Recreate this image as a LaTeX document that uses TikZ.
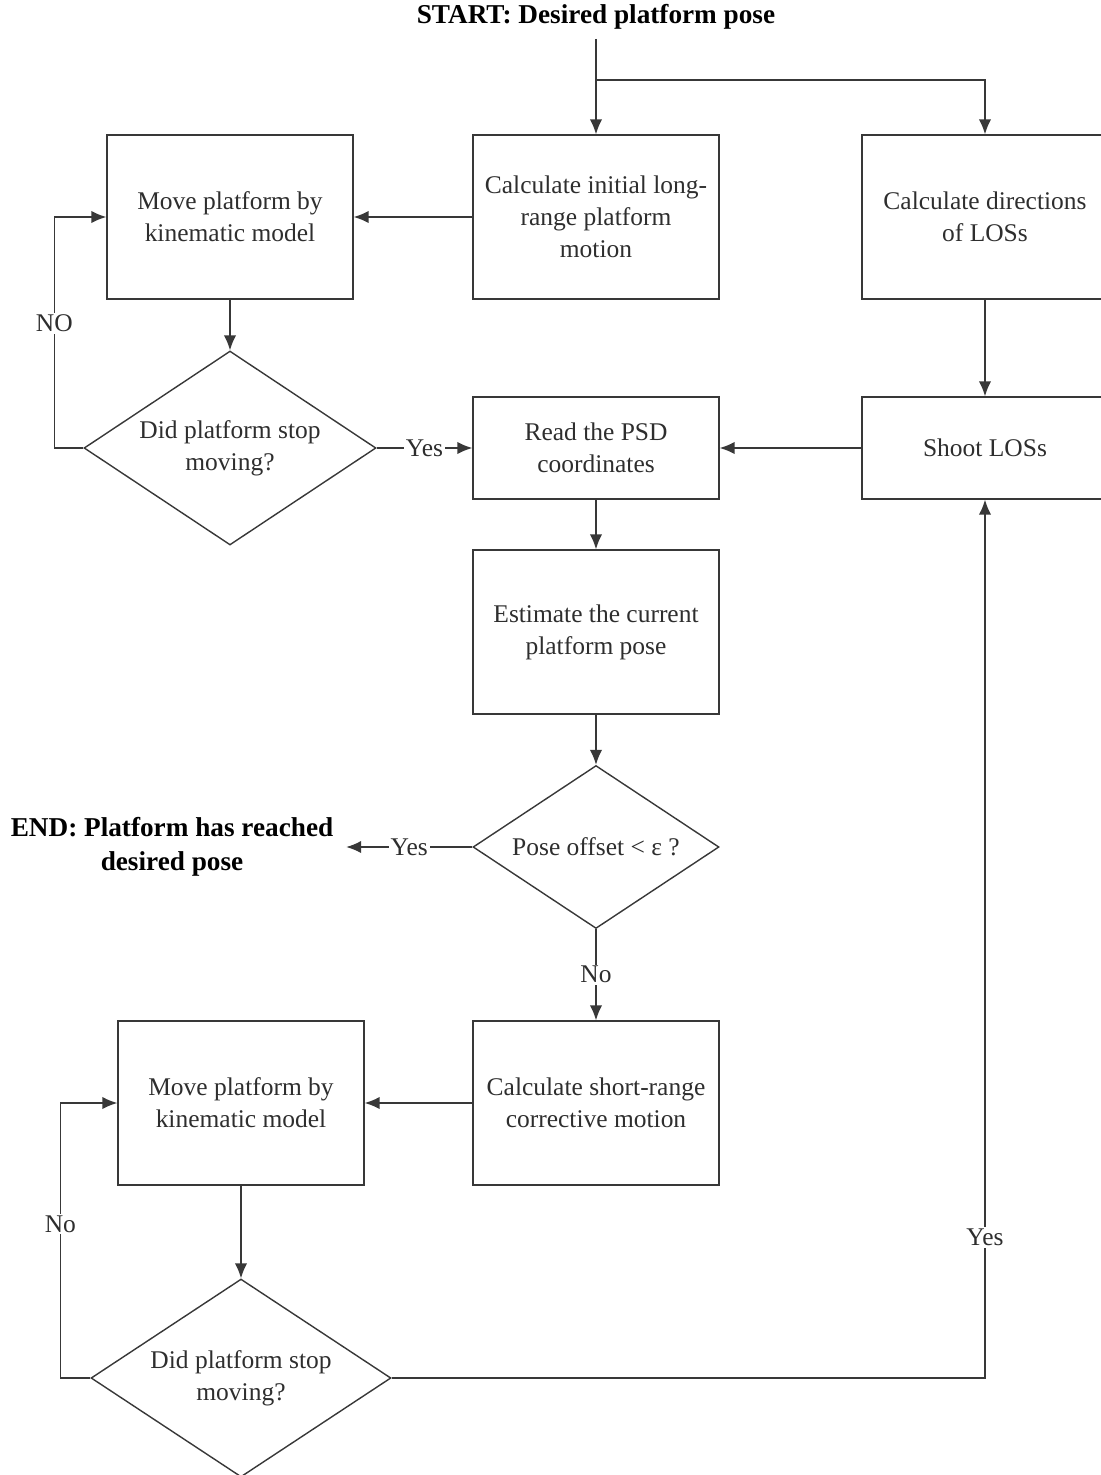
\documentclass[tikz,border=0pt]{standalone}
\usepackage{fontspec}
\setmainfont{Liberation Serif}
\usetikzlibrary{arrows.meta, positioning, calc, shapes.geometric}
\definecolor{linegray}{rgb}{0.22, 0.22, 0.22}
\definecolor{textgray}{rgb}{0.18, 0.18, 0.18}

\begin{document}
\begin{tikzpicture}[x=0.02cm, y=-0.02cm, >={Latex[length=8.5pt, width=7pt]}, line width=0.8pt,
    box/.style={draw=linegray, rectangle, minimum width=4.92cm, align=center, inner sep=2pt,
        text=textgray, font=\fontsize{14.5}{18.2}\selectfont},
    tallbox/.style={box, minimum height=3.28cm},
    flatbox/.style={box, minimum height=2.04cm},
    decision/.style={draw=linegray, diamond, shape aspect=1.5, align=center, inner sep=0pt,
        text=textgray, font=\fontsize{14.5}{18.2}\selectfont},
    terminal/.style={align=center, inner sep=2pt, font=\fontsize{15.5}{19.5}\selectfont\bfseries},
    lbl/.style={fill=white, inner sep=1pt, text=textgray, font=\fontsize{14.5}{16}\selectfont}]
        \useasboundingbox (0,0) rectangle (1101,1475);
        % Start and the first row
        \node[terminal, inner ysep=5pt] (start) at (596,17) {START: Desired platform pose};
        \node[tallbox] (calcLong) at (596,217) {Calculate initial long-\\range platform\\motion};
        \node[tallbox] (moveTop) at (230,217) {Move platform by\\kinematic model};
        \node[tallbox] (calcLOS) at (985,217) {Calculate directions\\of LOSs};
        \coordinate (split) at (596,80);
        % First stop check
        \node[decision, minimum width=5.84cm, minimum height=3.88cm] (stopTop) at (230,448) {Did platform stop\\moving?};
        \node[flatbox] (readPSD) at (596,448) {Read the PSD\\coordinates};
        \node[flatbox] (shootLOS) at (985,448) {Shoot LOSs};
        \node[tallbox] (estPose) at (596,632) {Estimate the current\\platform pose};
        % Pose check
        \node[decision, minimum width=4.92cm, minimum height=3.26cm] (offset) at (596,847) {Pose offset < ε ?};
        \node[terminal, inner xsep=7pt] (endNode) at (172,847) {END: Platform has reached\\desired pose};
        % Corrective loop
        \node[tallbox] (calcShort) at (596,1103) {Calculate short-range\\corrective motion};
        \node[tallbox] (moveBot) at (241,1103) {Move platform by\\kinematic model};
        \node[decision, minimum width=6cm, minimum height=3.96cm] (stopBot) at (241,1378) {Did platform stop\\moving?};
        % Connectors
        \draw[->, linegray] (start) -- (calcLong);
        \draw[->, linegray] (split) -| (calcLOS);
        \draw[->, linegray] (calcLong) -- (moveTop);
        \draw[->, linegray] (moveTop) -- (stopTop);
        \draw[->, linegray] (stopTop.west) -- ++(-29,0) |- (moveTop.west) node[lbl, pos=0.27] {NO};
        \draw[->, linegray] (stopTop) -- node[lbl] {Yes} (readPSD);
        \draw[->, linegray] (calcLOS) -- (shootLOS);
        \draw[->, linegray] (shootLOS) -- (readPSD);
        \draw[->, linegray] (readPSD) -- (estPose);
        \draw[->, linegray] (estPose) -- (offset);
        \draw[->, linegray] (offset) -- node[lbl] {Yes} (endNode);
        \draw[->, linegray] (offset) -- node[lbl] {No} (calcShort);
        \draw[->, linegray] (calcShort) -- (moveBot);
        \draw[->, linegray] (moveBot) -- (stopBot);
        \draw[->, linegray] (stopBot.west) -- ++(-30,0) |- (moveBot.west) node[lbl, pos=0.28] {No};
        \draw[->, linegray] (stopBot.east) -| (shootLOS.south) node[lbl, pos=0.58] {Yes};
    \end{tikzpicture}
\end{document}
